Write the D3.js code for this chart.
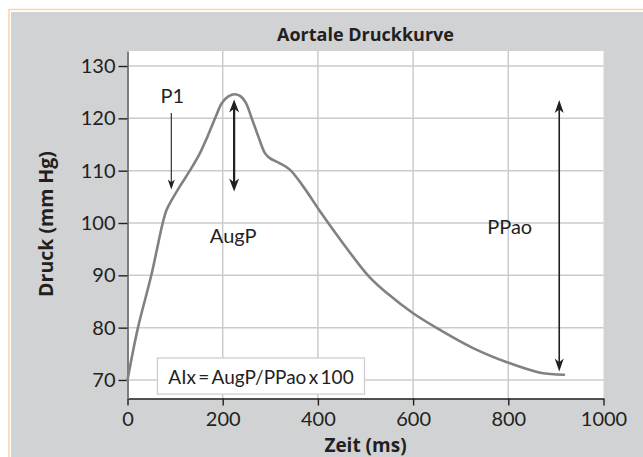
<!DOCTYPE html>
<html><head><meta charset="utf-8">
<script src="https://cdn.jsdelivr.net/npm/d3@7"></script>
<style>
html,body{margin:0;padding:0;background:#fff;}
svg{display:block;}
text{font-family:"Lato","Open Sans",sans-serif;fill:#231f20;}
.bold{font-family:"Open Sans",sans-serif;font-weight:bold;}
</style></head>
<body>
<svg id="c" width="643" height="457"></svg>
<script>
// ---- data ----
const timeMs   = [0, 22, 50, 74, 82, 93, 110, 131, 152, 168, 184, 198, 212, 226, 238, 249, 261, 275, 289, 299, 320, 341, 369, 404, 453, 506, 545, 600, 656, 726, 800, 867, 917];
const pressure = [70, 80, 90, 100, 102.5, 104.4, 107, 110, 113.3, 116.5, 120, 122.9, 124.2, 124.6, 124.2, 122.9, 120, 116.5, 113.3, 112.4, 111.4, 110.2, 107, 102.3, 96.1, 89.9, 86.6, 82.75, 79.6, 76.1, 73.3, 71.4, 71.0];
const xTicks = [0, 200, 400, 600, 800, 1000];
const yTicks = [70, 80, 90, 100, 110, 120, 130];
const title = "Aortale Druckkurve";
const xLabel = "Zeit (ms)";
const yLabel = "Druck (mm Hg)";
const formulaText = "AIx\u2009=\u2009AugP/PPao\u2009x\u2009100";

// ---- layout ----
const svg = d3.select("#c");
const L = 127.5, R = 603.5, T = 51, B = 398.5;
const x = d3.scaleLinear().domain([0, 1000]).range([L, R]);
const y = d3.scaleLinear().domain([66.46, 132.87]).range([B, T]);

// frame
svg.append("rect").attr("x", 9).attr("y", 9.5).attr("width", 640).attr("height", 460)
  .attr("fill", "none").attr("stroke", "#fdd3a6").attr("stroke-width", 1.5);
svg.append("rect").attr("x", 11).attr("y", 12).attr("width", 640).attr("height", 460).attr("fill", "#d1d2d4");

// plot background
svg.append("rect").attr("x", L).attr("y", T).attr("width", R - L).attr("height", B - T).attr("fill", "#fff");

// grid
const g = svg.append("g");
g.selectAll("line.h").data(yTicks).join("line")
  .attr("x1", L).attr("x2", R).attr("y1", d => y(d)).attr("y2", d => y(d))
  .attr("stroke", "#cbcbce").attr("stroke-width", 1.5);
g.selectAll("line.v").data(xTicks.slice(1, -1)).join("line")
  .attr("x1", d => x(d)).attr("x2", d => x(d)).attr("y1", T).attr("y2", B)
  .attr("stroke", "#cbcbce").attr("stroke-width", 1.5);

// axes
const xAxis = svg.append("g").attr("transform", `translate(0,${B})`)
  .call(d3.axisBottom(x).tickValues(xTicks).tickFormat(d3.format("d")).tickSize(7).tickPadding(6).tickSizeOuter(0));
xAxis.select(".domain").attr("stroke", "#231f20").attr("stroke-width", 1.6);
xAxis.selectAll(".tick line").attr("stroke", "#231f20").attr("stroke-width", 1.4);
xAxis.selectAll(".tick text").attr("font-size", 20).attr("font-family", "Lato").attr("fill", "#231f20");

const yAxis = svg.append("g").attr("transform", `translate(${L},0)`)
  .call(d3.axisLeft(y).tickValues(yTicks).tickFormat(d3.format("d")).tickSize(9).tickPadding(3).tickSizeOuter(0));
yAxis.select(".domain").attr("stroke", "#7d7d80").attr("stroke-width", 2);
yAxis.selectAll(".tick line").attr("stroke", "#231f20").attr("stroke-width", 1.4);
yAxis.selectAll(".tick text").attr("font-size", 20).attr("font-family", "Lato").attr("fill", "#231f20");

// curve
const pts = timeMs.map((t, i) => [t, pressure[i]]);
svg.append("path").datum(pts)
  .attr("d", d3.line().x(d => x(d[0])).y(d => y(d[1])).curve(d3.curveCatmullRom.alpha(0.5)))
  .attr("fill", "none").attr("stroke", "#818184").attr("stroke-width", 2.6)
  .attr("stroke-linecap", "round");

// arrows
function head(px, py, dir, w, len) {
  const b = py - dir * len, n = py - dir * len * 0.72;
  return `M${px},${py}L${px - w / 2},${b}L${px},${n}L${px + w / 2},${b}Z`;
}
function arrow(xv, yTop, yBot, both, sw, w, len) {
  const px = x(xv), t = y(yTop), b = y(yBot);
  svg.append("line").attr("x1", px).attr("x2", px)
    .attr("y1", both ? t + len * 0.6 : t).attr("y2", b - len * 0.6)
    .attr("stroke", "#231f20").attr("stroke-width", sw);
  svg.append("path").attr("d", head(px, b, 1, w, len)).attr("fill", "#231f20");
  if (both) svg.append("path").attr("d", head(px, t, -1, w, len)).attr("fill", "#231f20");
}
arrow(92, 121.0, 106.4, false, 1.1, 7, 10);
arrow(224, 123.6, 106.0, true, 2.2, 10, 13);
arrow(907, 123.5, 71.6, true, 1.6, 9, 13);

// annotation labels
svg.append("text").attr("x", x(94)).attr("y", y(122.9)).attr("text-anchor", "middle").attr("font-size", 20).text("P1");
svg.append("text").attr("x", x(222)).attr("y", y(96.2)).attr("text-anchor", "middle").attr("font-size", 20).text("AugP");
svg.append("text").attr("x", x(803)).attr("y", y(97.9)).attr("text-anchor", "middle").attr("font-size", 20).text("PPao");

// formula box
svg.append("rect").attr("x", x(62.9)).attr("y", y(74.2)).attr("width", x(497.9) - x(62.9)).attr("height", y(67.3) - y(74.2))
  .attr("fill", "#fff").attr("stroke", "#cbcbce").attr("stroke-width", 1.2);
svg.append("text").attr("x", (x(62.9) + x(497.9)) / 2).attr("y", y(67.3) - 10).attr("text-anchor", "middle")
  .attr("font-size", 19).text(formulaText);

// titles
svg.append("text").attr("class", "bold").attr("x", (L + R) / 2).attr("y", 41).attr("text-anchor", "middle")
  .attr("font-size", 18).text(title);
svg.append("text").attr("class", "bold").attr("x", (L + R) / 2).attr("y", 452).attr("text-anchor", "middle")
  .attr("font-size", 19).text(xLabel);
svg.append("text").attr("class", "bold").attr("transform", "translate(53,224) rotate(-90)").attr("text-anchor", "middle")
  .attr("font-size", 19.5).text(yLabel);
</script>
</body></html>
